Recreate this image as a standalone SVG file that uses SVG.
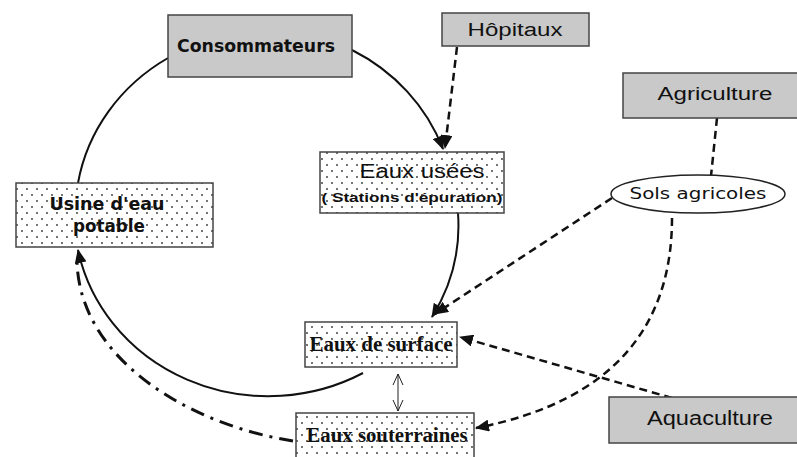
<svg xmlns="http://www.w3.org/2000/svg" width="797" height="457" viewBox="0 0 797 457">
<defs>
<pattern id="dots" width="10" height="12" patternUnits="userSpaceOnUse">
<rect width="10" height="12" fill="#fff"/>
<circle cx="2" cy="3" r="0.9" fill="#333"/>
<circle cx="7" cy="9" r="0.9" fill="#333"/>
</pattern>
<marker id="ah" markerUnits="userSpaceOnUse" markerWidth="14" markerHeight="12" viewBox="0 0 14 12" refX="13" refY="6" orient="auto">
<path d="M0,0 L14,6 L0,12 Z" fill="#111"/>
</marker>
<marker id="open" markerUnits="userSpaceOnUse" markerWidth="12" markerHeight="12" viewBox="0 0 12 12" refX="11" refY="6" orient="auto-start-reverse">
<path d="M0,1 L11,6 L0,11" fill="none" stroke="#222" stroke-width="1"/>
</marker>
<style>
.gray{fill:#c9c9c9;stroke:#444;stroke-width:1.5}
.dot{fill:url(#dots);stroke:#444;stroke-width:1.5}
.solid{fill:none;stroke:#111;stroke-width:2}
.dash{fill:none;stroke:#111;stroke-width:2.5;stroke-dasharray:8 5}
.dashdot{fill:none;stroke:#111;stroke-width:3;stroke-dasharray:14 7 3 7}
.sans{font-family:"Liberation Sans",Arial,sans-serif;fill:#111;text-anchor:middle}
.dv{font-family:"DejaVu Sans",Verdana,sans-serif;font-weight:bold;fill:#111;text-anchor:middle}
.dvn{font-family:"DejaVu Sans",Verdana,sans-serif;fill:#111;text-anchor:middle}
.serif{font-family:"Liberation Serif","Times New Roman",serif;font-weight:bold;fill:#111;text-anchor:middle}
</style>
</defs>
<rect width="797" height="457" fill="#fff"/>
<g id="connectors">
<path class="solid" d="M168,58 A194,182 0 0,0 78,183"/>
<path class="solid" d="M352,50 A194,182 0 0,1 443,149" marker-end="url(#ah)"/>
<path class="solid" d="M458,213 A194,182 0 0,1 432,317" marker-end="url(#ah)"/>
<path class="solid" d="M363,373 A194,182 0 0,1 78,250" marker-end="url(#ah)"/>
<path class="dashdot" d="M293,441 C190,425 80,360 77,262"/>
<path class="dash" d="M457,47 L445,148" marker-end="url(#ah)"/>
<path class="dash" d="M717,118 L711,176"/>
<path class="dash" d="M612,198 L435,314" marker-end="url(#ah)"/>
<path class="dash" d="M672,218 C672,320 620,400 476,428" marker-end="url(#ah)"/>
<path class="dash" d="M672,398 L460,337" marker-end="url(#ah)"/>
<path d="M398,374 L398,411" stroke="#222" stroke-width="1" fill="none" marker-start="url(#open)" marker-end="url(#open)"/>
</g>
<g id="consommateurs">
<rect class="gray" x="168" y="15" width="184" height="62"/>
<text class="dv" x="256" y="52" font-size="18" textLength="158" lengthAdjust="spacingAndGlyphs">Consommateurs</text>
</g>
<g id="hopitaux">
<rect class="gray" x="442" y="13" width="147" height="33"/>
<text class="sans" x="515" y="36" font-size="18" textLength="95" lengthAdjust="spacingAndGlyphs">Hôpitaux</text>
</g>
<g id="agriculture">
<rect class="gray" x="623" y="73" width="180" height="45"/>
<text class="sans" x="715" y="100" font-size="18" textLength="115" lengthAdjust="spacingAndGlyphs">Agriculture</text>
</g>
<g id="sols-agricoles">
<ellipse cx="698" cy="194" rx="87" ry="19" fill="#fff" stroke="#222" stroke-width="1.5"/>
<text class="dvn" x="698" y="199" font-size="15" textLength="137" lengthAdjust="spacingAndGlyphs">Sols agricoles</text>
</g>
<g id="eaux-usees">
<rect class="dot" x="320" y="152" width="184" height="61"/>
<text class="sans" x="422" y="178" font-size="20" textLength="125" lengthAdjust="spacingAndGlyphs">Eaux usées</text>
<text class="sans" x="412" y="202" font-size="13.5" font-weight="bold" textLength="181" lengthAdjust="spacingAndGlyphs">( Stations d'épuration)</text>
</g>
<g id="usine">
<rect class="dot" x="16" y="183" width="197" height="64"/>
<text class="dv" x="107" y="210" font-size="17" textLength="115" lengthAdjust="spacingAndGlyphs">Usine d'eau</text>
<text class="dv" x="109" y="232" font-size="17" textLength="72" lengthAdjust="spacingAndGlyphs">potable</text>
</g>
<g id="eaux-surface">
<rect class="dot" x="305" y="322" width="152" height="45"/>
<text class="serif" x="381" y="351" font-size="20" textLength="143" lengthAdjust="spacingAndGlyphs">Eaux de surface</text>
</g>
<g id="eaux-souterraines">
<rect class="dot" x="296" y="413" width="178" height="50"/>
<text class="serif" x="387" y="442" font-size="20" textLength="161" lengthAdjust="spacingAndGlyphs">Eaux souterraines</text>
</g>
<g id="aquaculture">
<rect class="gray" x="609" y="397" width="195" height="46"/>
<text class="sans" x="710" y="425" font-size="20" textLength="126" lengthAdjust="spacingAndGlyphs">Aquaculture</text>
</g>
</svg>
